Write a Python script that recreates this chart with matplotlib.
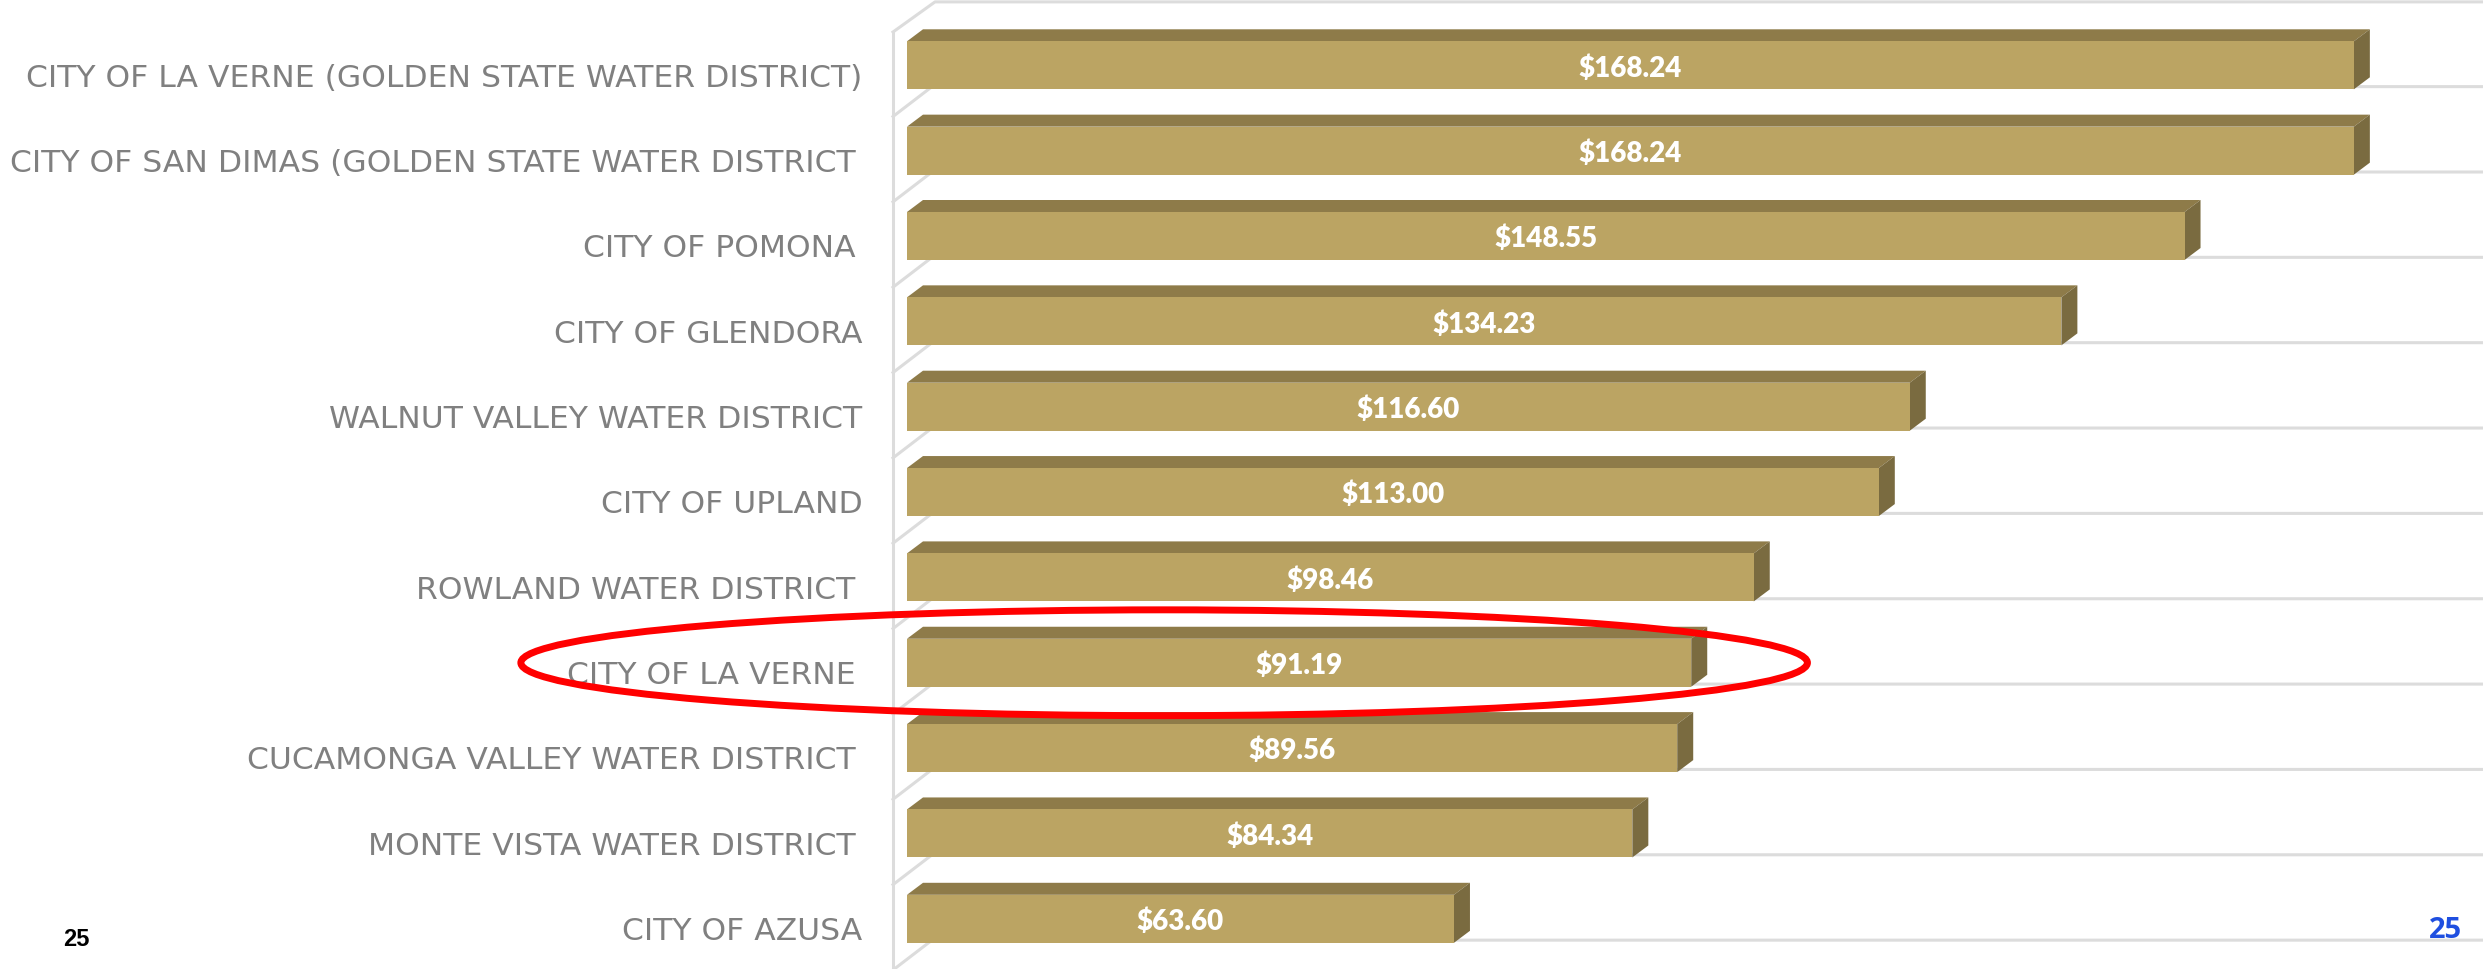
import matplotlib
matplotlib.use("Agg")
import matplotlib.pyplot as plt
from matplotlib.patches import Polygon, Ellipse

names = [
    "CITY OF LA VERNE (GOLDEN STATE WATER DISTRICT)",
    "CITY OF SAN DIMAS (GOLDEN STATE WATER DISTRICT ",
    "CITY OF POMONA ",
    "CITY OF GLENDORA",
    "WALNUT VALLEY WATER DISTRICT",
    "CITY OF UPLAND",
    "ROWLAND WATER DISTRICT ",
    "CITY OF LA VERNE ",
    "CUCAMONGA VALLEY WATER DISTRICT ",
    "MONTE VISTA WATER DISTRICT ",
    "CITY OF AZUSA",
]
rates = [168.24, 168.24, 148.55, 134.23, 116.60, 113.00, 98.46, 91.19, 89.56, 84.34, 63.60]
highlighted = 7

W, H = 2483, 969
px_x = 8.6     # pixels per dollar
px_y = 85.35   # pixels per category
x0_px = 907
y0_px = 65.3

front = "#bba463"
top = "#8e7b49"
side = "#7a6b40"
grid = "#dcdcdc"
label_col = "#808080"

fig = plt.figure(figsize=(W / 100, H / 100), dpi=100)
ax = fig.add_axes([0, 0, 1, 1])
ax.set_xlim(-x0_px / px_x, (W - x0_px) / px_x)
ax.set_ylim((H - y0_px) / px_y, -y0_px / px_y)
ax.axis("off")

dx = 16 / px_x
dy = 12 / px_y
half = 24 / px_y
wall = -14 / px_x
floor_x = 25 / px_x

# back wall and floor lines
ax.plot([wall, wall], [-0.39, 10.6], color=grid, lw=2.2, zorder=1)
ax.plot([wall, 28 / px_x, 200], [-0.39, -0.743, -0.743], color=grid, lw=2.2, zorder=1)
for i in range(len(rates)):
    ax.plot([wall, floor_x, 200], [i + 0.6, i + 0.25, i + 0.25], color=grid, lw=2.2, zorder=1)

ax.barh(range(len(rates)), rates, height=2 * half, color=front, edgecolor="none", zorder=3)
for i, v in enumerate(rates):
    ax.add_patch(Polygon([(0, i - half), (dx, i - half - dy), (v + dx, i - half - dy), (v, i - half)],
                         closed=True, fc=top, ec="none", zorder=2))
    ax.add_patch(Polygon([(v, i - half), (v + dx, i - half - dy), (v + dx, i + half - dy), (v, i + half)],
                         closed=True, fc=side, ec="none", zorder=2))
    ax.text(v / 2, i + 0.035, "$%.2f" % v, color="white", family="Lato", weight="heavy",
            fontsize=20, ha="center", va="center", zorder=4)
    ax.text(-5.2 if not names[i].endswith(" ") else -6.0, i + 0.15, names[i].rstrip(), color=label_col,
            family="DejaVu Sans", fontsize=22.6, ha="right", va="center", zorder=4)

# red ring round the highlighted row
ax.add_patch(Ellipse((29.9, highlighted), 149.6, 1.24, fc="none", ec="#ff0000", lw=5, zorder=5))

fig.text(76 / W, 1 - 940 / H, "25", color="black", family="Liberation Sans", weight="bold",
         fontsize=17, ha="center", va="center")
fig.text(2446 / W, 1 - 931 / H, "25", color="#1f4fe0", family="Open Sans", weight="bold",
         fontsize=21, ha="center", va="center")

fig.savefig("out.png", dpi=100)
